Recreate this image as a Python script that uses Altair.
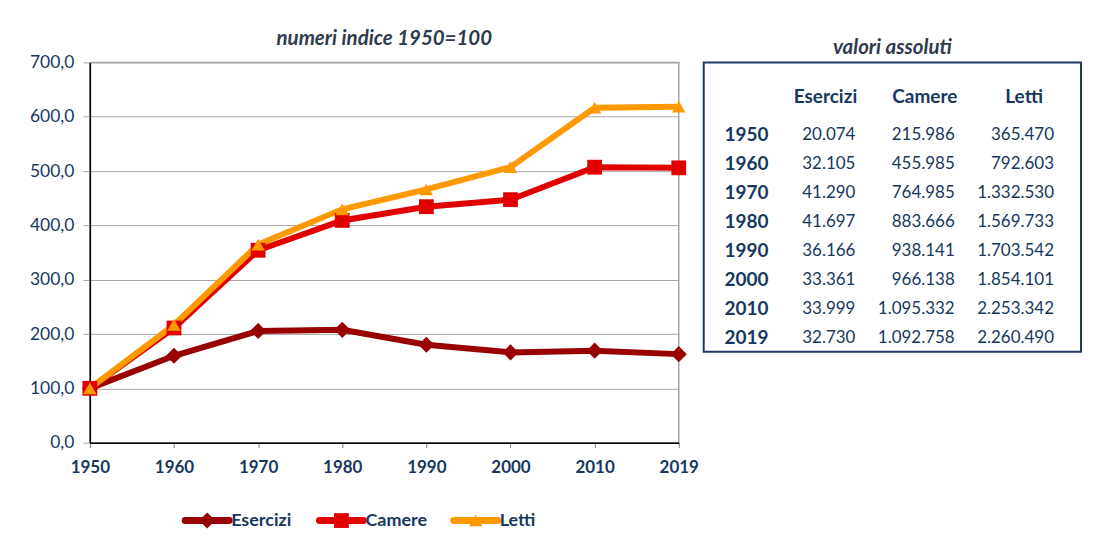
import altair as alt
import pandas as pd

# ---- data ----
anni = ["1950", "1960", "1970", "1980", "1990", "2000", "2010", "2019"]
serie = ["Esercizi", "Camere", "Letti"]
idx_esercizi = [100.0, 159.9, 205.7, 207.7, 180.2, 166.2, 169.4, 163.0]
idx_camere = [100.0, 211.1, 354.2, 409.1, 434.4, 447.3, 507.1, 505.9]
idx_letti = [100.0, 216.9, 364.6, 429.5, 466.1, 507.3, 616.6, 618.5]
# valori assoluti
abs_esercizi = [20074, 32105, 41290, 41697, 36166, 33361, 33999, 32730]
abs_camere = [215986, 455985, 764985, 883666, 938141, 966138, 1095332, 1092758]
abs_letti = [365470, 792603, 1332530, 1569733, 1703542, 1854101, 2253342, 2260490]

colori = ["#990000", "#e00000", "#ff9900"]
forme = ["diamond", "square", "triangle-up"]
dimensioni = [260, 180, 230]
BLU = "#17375e"
FONT = "Lato"

rows = []
for s, vals in zip(serie, [idx_esercizi, idx_camere, idx_letti]):
    for a, v in zip(anni, vals):
        rows.append({"anno": a, "serie": s, "valore": v})
df = pd.DataFrame(rows)

col_scale = alt.Scale(domain=serie, range=colori)
shape_scale = alt.Scale(domain=serie, range=forme)
size_scale = alt.Scale(domain=serie, range=dimensioni)

x_enc = alt.X(
    "anno:O",
    scale=alt.Scale(type="point", padding=0),
    axis=alt.Axis(
        title=None, labelAngle=0, labelFont=FONT, labelFontSize=17,
        labelFontWeight="bold", labelColor=BLU, tickSize=5, tickColor="#7f7f7f",
        domainColor="#000000", domainWidth=1.5, grid=False, labelPadding=12,
    ),
)
y_enc = alt.Y(
    "valore:Q",
    scale=alt.Scale(domain=[0, 700], nice=False),
    axis=alt.Axis(
        title=None, values=[0, 100, 200, 300, 400, 500, 600, 700], format=".1f",
        labelFont=FONT, labelFontSize=17.5, labelColor=BLU, tickSize=7,
        tickColor="#a6a6a6", gridColor="#a6a6a6", gridWidth=1,
        domainColor="#000000", domainWidth=1.5, labelPadding=9,
    ),
)

base = alt.Chart(df)
lines = base.mark_line(strokeWidth=6).encode(
    x=x_enc, y=y_enc,
    color=alt.Color("serie:N", scale=col_scale, legend=None),
    order=alt.Order("anno:O"),
)
points = base.mark_point(filled=True, opacity=1).encode(
    x="anno:O", y="valore:Q",
    color=alt.Color("serie:N", scale=col_scale, legend=None),
    shape=alt.Shape("serie:N", scale=shape_scale, legend=None),
    size=alt.Size("serie:N", scale=size_scale, legend=None),
)

line_chart = alt.layer(lines, points).properties(
    width=590, height=381,
    title=alt.TitleParams(
        "numeri indice 1950=100", font=FONT, fontSize=20.5, fontStyle="italic",
        fontWeight="bold", color="#2f3b4c", offset=4, anchor="middle",
    ),
    view=alt.ViewBackground(stroke="#a6a6a6", strokeWidth=1.5),
)

# ---- legend (drawn as marks) ----
df_leg = pd.DataFrame({"serie": serie, "r": ["r"] * 3})
lx = alt.X("serie:N", scale=alt.Scale(type="point", domain=serie, padding=1, align=0.437), axis=None)
ly = alt.Y("r:N", scale=alt.Scale(type="point", padding=0.5), axis=None)
leg_base = alt.Chart(df_leg)
leg_lines = leg_base.mark_rule(strokeWidth=7, strokeCap="round", xOffset=-22, x2Offset=22).encode(
    x=lx, x2="serie:N", y=ly,
    color=alt.Color("serie:N", scale=col_scale, legend=None),
)
leg_pts = leg_base.mark_point(filled=True, opacity=1).encode(
    x=lx, y=ly,
    color=alt.Color("serie:N", scale=col_scale, legend=None),
    shape=alt.Shape("serie:N", scale=shape_scale, legend=None),
    size=alt.Size("serie:N", scale=size_scale, legend=None),
)
leg_txt = leg_base.mark_text(
    align="left", baseline="middle", dx=24, font=FONT, fontSize=18,
    fontWeight="bold", color=BLU,
).encode(x=lx, y=ly, text="serie:N")
legend_chart = alt.layer(leg_lines, leg_pts, leg_txt).properties(
    width=538, height=20,
    view=alt.ViewBackground(stroke="transparent"),
)

# ---- table ----
col_names = ["anno", "Esercizi", "Camere", "Letti"]
row_names = ["hdr"] + anni
tab_rows = []
for c, vals in zip(serie, [abs_esercizi, abs_camere, abs_letti]):
    for a, v in zip(anni, vals):
        tab_rows.append({"col": c, "row": a, "v": v})
df_tab = pd.DataFrame(tab_rows)
df_years = pd.DataFrame({"col": ["anno"] * len(anni), "row": anni, "t": anni})
df_hdr = pd.DataFrame({"col": serie, "row": ["hdr"] * 3, "t": serie})

tx = alt.X("col:N", scale=alt.Scale(type="point", domain=col_names, padding=0.3995, align=0.66), axis=None)
ty = alt.Y("row:N", scale=alt.Scale(type="point", domain=row_names, padding=1.07, align=0.755), axis=None)

vals_txt = alt.Chart(df_tab).mark_text(
    align="right", baseline="middle", font=FONT, fontSize=17, color=BLU
).encode(x=tx, y=ty, text=alt.Text("v:Q", format=",.0f"))
years_txt = alt.Chart(df_years).mark_text(
    align="right", baseline="middle", font=FONT, fontSize=19, fontWeight="bold",
    color=BLU, dx=12.5,
).encode(x=tx, y=ty, text="t:N")
hdr_txt = alt.Chart(df_hdr).mark_text(
    align="center", baseline="middle", font=FONT, fontSize=19, fontWeight="bold",
    color=BLU, dx=-30, dy=-9,
).encode(x=tx, y=ty, text="t:N")

table_chart = alt.layer(vals_txt, years_txt, hdr_txt).properties(
    width=378, height=290,
    title=alt.TitleParams(
        "valori assoluti", font=FONT, fontSize=20.5, fontStyle="italic",
        fontWeight="bold", color="#2f3b4c", offset=4, anchor="middle",
    ),
    view=alt.ViewBackground(stroke="#1f3864", strokeWidth=2),
)

chart = (
    alt.vconcat(alt.hconcat(line_chart, table_chart, spacing=3), legend_chart, spacing=33)
    .properties(padding={"left": 20, "top": 19, "right": 5, "bottom": 5})
    .configure(
        locale={"number": {"decimal": ",", "thousands": ".", "grouping": [3], "currency": ["", " €"]}}
    )
)

chart.save("out.html", embed_options={"renderer": "svg", "actions": False})
